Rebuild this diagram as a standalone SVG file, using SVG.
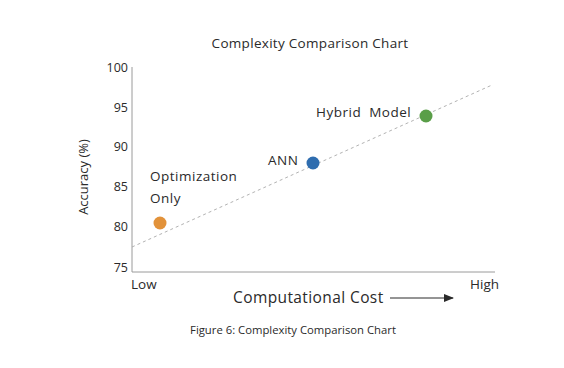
<svg xmlns="http://www.w3.org/2000/svg" width="564" height="368" viewBox="0 0 564 368">
  <style>
    text { font-family: "Open Sans", "Noto Sans", "DejaVu Sans", sans-serif; fill: #2a2a2a; }
    .tick { font-size: 12.5px; text-anchor: end; }
    .lbl { font-size: 13.5px; letter-spacing: 0.5px; }
    .axis { stroke: #9a9a9a; stroke-width: 1; fill: none; }
  </style>
  <defs>
    <marker id="arrowhead" markerWidth="10" markerHeight="8" refX="9" refY="4" orient="auto" markerUnits="userSpaceOnUse">
      <path d="M0,0 L10,4 L0,8 Z" fill="#2a2a2a"/>
    </marker>
  </defs>
  <rect width="564" height="368" fill="#ffffff"/>

  <text x="310" y="48" text-anchor="middle" font-size="13.5" letter-spacing="0.3">Complexity Comparison Chart</text>

  <!-- axes -->
  <g id="axes">
    <path class="axis" d="M132,67 V272 H495"/>
    <text class="tick" x="128" y="72">100</text>
    <text class="tick" x="128" y="112">95</text>
    <text class="tick" x="128" y="151">90</text>
    <text class="tick" x="128" y="191">85</text>
    <text class="tick" x="128" y="231">80</text>
    <text class="tick" x="128" y="272">75</text>
    <text x="88" y="177" text-anchor="middle" font-size="13" transform="rotate(-90 88 177)">Accuracy (%)</text>
    <text x="131" y="289" font-size="13.5">Low</text>
    <text x="499" y="289" font-size="13.5" text-anchor="end">High</text>
    <text x="233" y="303" font-size="15.5" letter-spacing="0.4">Computational Cost</text>
  </g>

  <!-- trend line and cost arrow -->
  <g id="connectors">
    <line x1="132" y1="247" x2="492" y2="85" stroke="#a9a9a9" stroke-width="0.9" stroke-dasharray="3,3"/>
    <line x1="390" y1="298" x2="453" y2="298" stroke="#2a2a2a" stroke-width="1" marker-end="url(#arrowhead)"/>
  </g>

  <g id="optimization-only">
    <circle cx="160" cy="223" r="6.5" fill="#e2923a"/>
    <text class="lbl" x="150" y="181">Optimization</text>
    <text class="lbl" x="150" y="203">Only</text>
  </g>
  <g id="ann">
    <circle cx="313" cy="163" r="6.5" fill="#2f6daf"/>
    <text class="lbl" x="268" y="165">ANN</text>
  </g>
  <g id="hybrid-model">
    <circle cx="426" cy="116" r="6.5" fill="#5a9e48"/>
    <text class="lbl" x="316" y="117" xml:space="preserve">Hybrid  Model</text>
  </g>

  <text x="293" y="334" text-anchor="middle" font-size="11.3">Figure 6: Complexity Comparison Chart</text>
</svg>
